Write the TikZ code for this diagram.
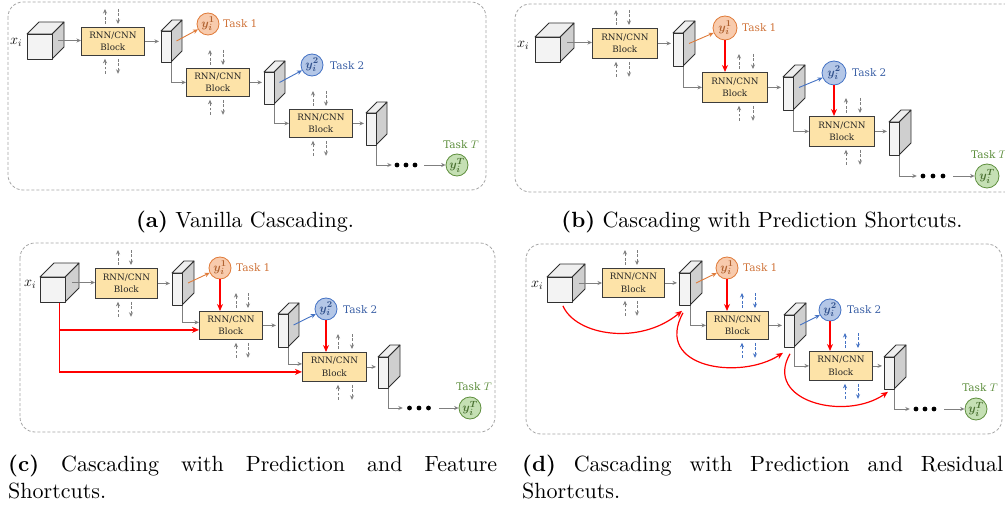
\documentclass[tikz,border=0pt]{standalone}
\usepackage{fontspec}
\usepackage{amsmath,bm}
\usetikzlibrary{arrows.meta,calc}

\newfontfamily\blockfont{DejaVu Serif}
\newfontfamily\capfont{lmroman10}[Extension=.otf,UprightFont=*-regular,BoldFont=*-bold]

\definecolor{blockfill}{HTML}{FDE3A8}
\definecolor{blockdraw}{HTML}{3C3C3C}
\definecolor{frontC}{HTML}{F3F3F3}
\definecolor{topC}{HTML}{EFEFEF}
\definecolor{sideC}{HTML}{CFCFCF}
\definecolor{edgeC}{HTML}{303030}
\definecolor{flowC}{HTML}{7F7F7F}
\definecolor{panelC}{HTML}{A6A6A6}
\definecolor{orD}{HTML}{E07B39}
\definecolor{orF}{HTML}{F8CBAD}
\definecolor{orT}{HTML}{D0743A}
\definecolor{blD}{HTML}{4472C4}
\definecolor{blF}{HTML}{B4C7E7}
\definecolor{blT}{HTML}{3B60A6}
\definecolor{grD}{HTML}{5E8F3E}
\definecolor{grF}{HTML}{C5E0B4}
\definecolor{grT}{HTML}{5E8F3E}
\definecolor{shortC}{HTML}{FF0000}

\tikzset{
  panel/.style={draw=panelC, line width=0.8pt, dash pattern=on 3pt off 2pt, rounded corners=15pt},
  blockbox/.style={draw=blockdraw, fill=blockfill, line width=0.8pt, inner sep=0pt,
    anchor=north west, align=center, text=black!85,
    font=\blockfont\fontsize{8.8}{12.5}\selectfont},
  face/.style={draw=edgeC, line width=0.8pt, line join=round},
  flow/.style={draw=flowC, line width=0.8pt, -{Stealth[length=4.5pt,width=4pt]}},
  dflow/.style={flow, dash pattern=on 2.8pt off 1.6pt},
  feedto/.style={line width=0.9pt, -{Stealth[length=5pt,width=4.5pt]}},
  shortcut/.style={draw=shortC, line width=1.2pt, -{Stealth[length=7pt,width=6pt]}},
  task/.style={circle, inner sep=0pt, line width=0.8pt, font=\fontsize{13}{13}\selectfont},
  taskO/.style={task, draw=orD, fill=orF, text=orT!85!black},
  taskB/.style={task, draw=blD, fill=blF, text=blT!85!black},
  taskG/.style={task, draw=grD, fill=grF, text=grT!80!black},
  tlabel/.style={inner sep=0pt, anchor=west, font=\blockfont\fontsize{10.5}{12}\selectfont},
  xlab/.style={inner sep=0pt, font=\fontsize{14}{14}\selectfont},
  capstyle/.style={inner sep=0pt, font=\capfont\fontsize{22}{27}\selectfont}
}

% cube: name, front top-left x, y, edge, depth
\newcommand\Cube[5]{%
  \filldraw[face, fill=sideC] ({#2+#4},#3) -- ++(#5,-#5) -- ++(0,#4) -- ++(-#5,#5) -- cycle;
  \filldraw[face, fill=topC] (#2,#3) -- ++(#5,-#5) -- ++(#4,0) -- ++(-#5,#5) -- cycle;
  \node[face, fill=frontC, anchor=north west, inner sep=0pt,
        minimum width=#4pt, minimum height=#4pt] (#1) at (#2,#3) {};
  \coordinate (#1-r) at ({#2+#4+#5/2},{#3+#4/2-#5/2});
}
% feature slab: name, front top-left x, y, width, height, depth
\newcommand\Slab[6]{%
  \filldraw[face, fill=sideC] ({#2+#4},#3) -- ++(#6,-#6) -- ++(0,#5) -- ++(-#6,#6) -- cycle;
  \filldraw[face, fill=topC] (#2,#3) -- ++(#6,-#6) -- ++(#4,0) -- ++(-#6,#6) -- cycle;
  \node[face, fill=frontC, anchor=north west, inner sep=0pt,
        minimum width=#4pt, minimum height=#5pt] (#1) at (#2,#3) {};
  \coordinate (#1-r) at ({#2+#4+#6/2},{#3+#5/2-#6/2});
}
% in/out dashed arrows above and below a block: node, x offsets, colour
\newcommand\Duo[4]{%
  \draw[dflow, draw=#4] ($(#1.north west)+(#2,-3)$) -- ++(0,-15);
  \draw[dflow, draw=#4] ($(#1.north west)+(#3,-18)$) -- ++(0,15);
  \draw[dflow, draw=#4] ($(#1.south west)+(#2,18)$) -- ++(0,-15);
  \draw[dflow, draw=#4] ($(#1.south west)+(#3,3)$) -- ++(0,15);
}
% ellipsis of three dots: name, centre x, y, width, spacing
\newcommand\Dots[5]{%
  \node[inner sep=0pt, minimum width=#4pt, minimum height=6pt] (#1) at (#2,#3) {};
  \foreach \k in {-1,0,1} \fill ($(#1.center)+(\k*#5,0)$) circle (2.4pt);
}

\begin{document}
\begin{tikzpicture}[x=1pt,y=-1pt]
\useasboundingbox (0,0) rectangle (1005,508);
\clip (0,0) rectangle (1005,508);
\fill[white] (0,0) rectangle (1005,508);

% ---------------- (a) vanilla cascading ----------------
\draw[panel] (8,2) rectangle (486,190);
\Cube{cA}{27}{34}{25}{12}
\node[xlab] (xA) at (16,42) {$x_i$};
\node[blockbox, minimum width=63pt, minimum height=28pt] (bA1) at (81,27) {RNN/CNN\\Block};
\Slab{sA1}{161}{31}{10}{31}{11}
\node[taskO, minimum size=22pt] (yA1) at (208,24) {$\bm{y_i^1}$};
\node[tlabel, text=orT] (tA1) at (223,24) {Task 1};
\node[blockbox, minimum width=63pt, minimum height=28pt] (bA2) at (186,68) {RNN/CNN\\Block};
\Slab{sA2}{264}{72}{10}{32}{11}
\node[taskB, minimum size=22pt] (yA2) at (312,65) {$\bm{y_i^2}$};
\node[tlabel, text=blT] (tA2) at (330,66) {Task 2};
\node[blockbox, minimum width=63pt, minimum height=28pt] (bA3) at (289,109) {RNN/CNN\\Block};
\Slab{sA3}{366}{113}{10}{32}{11}
\Dots{dA}{406}{165}{28}{9}
\node[taskG, minimum size=22pt] (yAT) at (457,165) {$\bm{y_i^T}$};
\node[tlabel, text=grT, anchor=center] (tAT) at (461,145) {Task $T$};

\draw[flow] (cA-r) -- (cA-r -| bA1.west);
\draw[flow, shorten >=2pt] (bA1.east) -- (bA1.east -| sA1.west);
\draw[feedto, draw=orD] (sA1-r) -- (yA1);
\draw[flow] (sA1.south east) |- (bA2.west);
\draw[flow, shorten >=2pt] (bA2.east) -- (bA2.east -| sA2.west);
\draw[feedto, draw=blD] (sA2-r) -- (yA2);
\draw[flow] (sA2.south east) |- (bA3.west);
\draw[flow, shorten >=2pt] (bA3.east) -- (bA3.east -| sA3.west);
\draw[flow] (sA3.south east) |- (dA.west);
\draw[flow, shorten <=4pt] (dA.east) -- (yAT);
\Duo{bA1}{24}{37}{flowC}
\Duo{bA2}{24}{37}{flowC}
\Duo{bA3}{24}{37}{flowC}

% ---------------- (b) prediction shortcuts ----------------
\draw[panel] (515,4) rectangle (1040,192);
\Cube{cB}{535}{37}{25}{14}
\node[xlab] (xB) at (523,45) {$x_i$};
\node[blockbox, minimum width=65pt, minimum height=30pt] (bB1) at (592,28) {RNN/CNN\\Block};
\Slab{sB1}{673}{33}{10}{33}{12}
\node[taskO, minimum size=24pt] (yB1) at (725,28) {$\bm{y_i^1}$};
\node[tlabel, text=orT] (tB1) at (742,28) {Task 1};
\node[blockbox, minimum width=65pt, minimum height=30pt] (bB2) at (702,72) {RNN/CNN\\Block};
\Slab{sB2}{783}{77}{10}{33}{12}
\node[taskB, minimum size=24pt] (yB2) at (834,73) {$\bm{y_i^2}$};
\node[tlabel, text=blT] (tB2) at (852,73) {Task 2};
\node[blockbox, minimum width=65pt, minimum height=30pt] (bB3) at (809,116) {RNN/CNN\\Block};
\Slab{sB3}{889}{122}{10}{33}{12}
\Dots{dB}{933}{176}{32}{10}
\node[taskG, minimum size=24pt] (yBT) at (987,176) {$\bm{y_i^T}$};
\node[tlabel, text=grT] (tBT) at (971,155) {Task $T$};

\draw[flow] (cB-r) -- (cB-r -| bB1.west);
\draw[flow, shorten >=2pt] (bB1.east) -- (bB1.east -| sB1.west);
\draw[feedto, draw=orD] (sB1-r) -- (yB1);
\draw[shortcut] (yB1) -- (yB1 |- bB2.north);
\draw[flow] (sB1.south east) |- (bB2.west);
\draw[flow, shorten >=2pt] (bB2.east) -- (bB2.east -| sB2.west);
\draw[feedto, draw=blD] (sB2-r) -- (yB2);
\draw[shortcut] (yB2) -- (yB2 |- bB3.north);
\draw[flow] (sB2.south east) |- (bB3.west);
\draw[flow, shorten >=2pt] (bB3.east) -- (bB3.east -| sB3.west);
\draw[flow] (sB3.south east) |- (dB.west);
\draw[flow, shorten <=4pt] (dB.east) -- (yBT);
\Duo{bB1}{24}{37}{flowC}
\Duo{bB2}{37}{51}{flowC}
\Duo{bB3}{37}{51}{flowC}

% ---------------- (c) prediction and feature shortcuts ----------------
\draw[panel] (20,243) rectangle (495,432);
\Cube{cC}{40}{277}{25}{14}
\node[xlab] (xC) at (30,284) {$x_i$};
\node[blockbox, minimum width=62pt, minimum height=30pt] (bC1) at (95,268) {RNN/CNN\\Block};
\Slab{sC1}{172}{273}{10}{32}{12}
\node[taskO, minimum size=22pt] (yC1) at (220,268) {$\bm{y_i^1}$};
\node[tlabel, text=orT] (tC1) at (236,268) {Task 1};
\node[blockbox, minimum width=63pt, minimum height=28pt] (bC2) at (199,311) {RNN/CNN\\Block};
\Slab{sC2}{278}{314}{10}{33}{11}
\node[taskB, minimum size=22pt] (yC2) at (326,309) {$\bm{y_i^2}$};
\node[tlabel, text=blT] (tC2) at (343,310) {Task 2};
\node[blockbox, minimum width=64pt, minimum height=29pt] (bC3) at (302,352) {RNN/CNN\\Block};
\Slab{sC3}{378}{357}{10}{31}{12}
\Dots{dC}{419}{408}{32}{9.5}
\node[taskG, minimum size=22pt] (yCT) at (470,408) {$\bm{y_i^T}$};
\node[tlabel, text=grT, anchor=center] (tCT) at (474,387) {Task $T$};

\draw[flow] (cC-r) -- (cC-r -| bC1.west);
\draw[flow, shorten >=2pt] (bC1.east) -- (bC1.east -| sC1.west);
\draw[feedto, draw=orD] (sC1-r) -- (yC1);
\draw[shortcut] (yC1) -- (yC1 |- bC2.north);
\coordinate (gC2) at ([yshift=3pt]bC2.west);
\coordinate (rC2) at ([yshift=-4.5pt]bC2.west);
\draw[flow] (sC1.south east) |- (gC2);
\draw[flow, shorten >=2pt] (bC2.east) -- (bC2.east -| sC2.west);
\draw[feedto, draw=blD] (sC2-r) -- (yC2);
\draw[shortcut] (yC2) -- (yC2 |- bC3.north);
\coordinate (gC3) at ([yshift=3pt]bC3.west);
\coordinate (rC3) at ([yshift=-5pt]bC3.west);
\draw[flow] (sC2.south east) |- (gC3);
\draw[flow, shorten >=2pt] (bC3.east) -- (bC3.east -| sC3.west);
\draw[flow] (sC3.south east) |- (dC.west);
\draw[flow, shorten <=4pt] (dC.east) -- (yCT);
\coordinate (rC0) at ([xshift=6.5pt]cC.south);
\draw[shortcut, -] (rC0) -- (rC0 |- rC3);
\draw[shortcut] (rC0 |- rC2) -- (rC2);
\draw[shortcut] (rC0 |- rC3) -- (rC3);
\Duo{bC1}{23}{36}{flowC}
\Duo{bC2}{37}{49}{flowC}
\Duo{bC3}{36}{50}{flowC}

% ---------------- (d) prediction and residual shortcuts ----------------
\draw[panel] (526,244) rectangle (1002,434);
\Cube{cD}{547}{277}{25}{13}
\node[xlab] (xD) at (537,285) {$x_i$};
\node[blockbox, minimum width=62pt, minimum height=29pt] (bD1) at (602,268) {RNN/CNN\\Block};
\Slab{sD1}{679}{273}{11}{32}{12}
\node[taskO, minimum size=22pt] (yD1) at (727,268) {$\bm{y_i^1}$};
\node[tlabel, text=orT] (tD1) at (743,268) {Task 1};
\node[blockbox, minimum width=62pt, minimum height=28pt] (bD2) at (706,311) {RNN/CNN\\Block};
\Slab{sD2}{784}{315}{10}{32}{12}
\node[taskB, minimum size=22pt] (yD2) at (830,310) {$\bm{y_i^2}$};
\node[tlabel, text=blT] (tD2) at (847,310) {Task 2};
\node[blockbox, minimum width=63pt, minimum height=29pt] (bD3) at (809,351) {RNN/CNN\\Block};
\Slab{sD3}{884}{357}{10}{32}{12}
\Dots{dD}{925}{409}{30}{9}
\node[taskG, minimum size=22pt] (yDT) at (976,409) {$\bm{y_i^T}$};
\node[tlabel, text=grT, anchor=center] (tDT) at (980,388) {Task $T$};

\draw[flow] (cD-r) -- (cD-r -| bD1.west);
\draw[flow, shorten >=2pt] (bD1.east) -- (bD1.east -| sD1.west);
\draw[feedto, draw=orD] (sD1-r) -- (yD1);
\draw[shortcut] (yD1) -- (yD1 |- bD2.north);
\draw[flow] (sD1.south east) |- (bD2.west);
\draw[flow, shorten >=2pt] (bD2.east) -- (bD2.east -| sD2.west);
\draw[feedto, draw=blD] (sD2-r) -- (yD2);
\draw[shortcut] (yD2) -- (yD2 |- bD3.north);
\draw[flow] (sD2.south east) |- (bD3.west);
\draw[flow, shorten >=2pt] (bD3.east) -- (bD3.east -| sD3.west);
\draw[flow] (sD3.south east) |- (dD.west);
\draw[flow, shorten <=4pt] (dD.east) -- (yDT);
% residual shortcuts between consecutive feature maps
\draw[shortcut] ($(cD.south)+(3,3)$) .. controls +(13,30) and +(-42,35) .. ($(sD1.south west)+(3,5)$);
\draw[shortcut] ($(sD1.south west)+(4,7)$) .. controls +(-30,55) and +(-43,28) .. ($(sD2.south west)+(-1,5)$);
\draw[shortcut] ($(sD2.south west)+(6,6)$) .. controls +(-27,47) and +(-43,30) .. ($(sD3.south west)+(4,2)$);
\Duo{bD1}{23}{35}{flowC}
\Duo{bD2}{36}{49}{blD}
\Duo{bD3}{36}{49}{blD}

% ---------------- captions ----------------
\node[capstyle, anchor=base] (capA) at (245,228) {\textbf{(a)} Vanilla Cascading.};
\node[capstyle, anchor=base] (capB) at (762,228) {\textbf{(b)} Cascading with Prediction Shortcuts.};
\node[capstyle, anchor=base west, text width=489pt, align=justify] (capC) at (8,471)
  {\tolerance=10000 \textbf{(c)} Cascading with Prediction and Feature \mbox{Shortcuts.}};
\node[capstyle, anchor=base west, text width=481pt, align=justify] (capD) at (522,471)
  {\tolerance=10000 \textbf{(d)} Cascading with Prediction and Residual \mbox{Shortcuts.}};
\end{tikzpicture}
\end{document}
